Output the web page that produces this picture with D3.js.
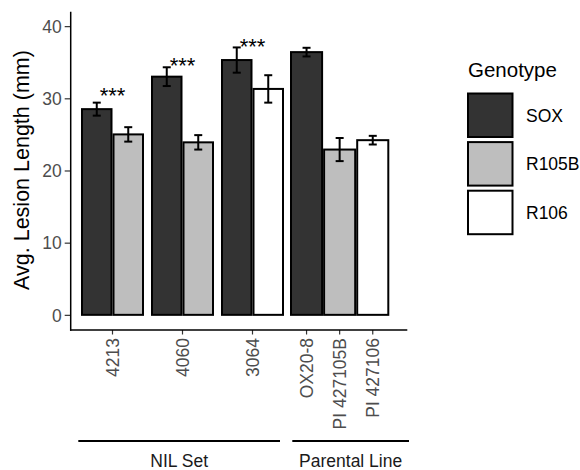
<!DOCTYPE html>
<html>
<head>
<script src="https://d3js.org/d3.v7.min.js"></script>
<style>
  body { margin: 0; background: #fff; }
  svg { font-family: "Liberation Sans", Arial, sans-serif; }
</style>
</head>
<body>
<div id="chart"></div>
<script>
// data
const genotypes = ['SOX', 'R105B', 'R106'];
const nilLines = ['4213', '4060', '3064'];
const parentLines = ['OX20-8', 'PI 427105B', 'PI 427106'];

// NIL set: each line has SOX + one donor genotype
const nilGenotype = [['SOX', 'R105B'], ['SOX', 'R105B'], ['SOX', 'R106']];
const nilMean = [[28.5, 25.0], [33.0, 23.9], [35.3, 31.3]];
const nilErr = [[0.9, 1.0], [1.3, 1.0], [1.75, 1.9]];

// parental lines
const parentGenotype = ['SOX', 'R105B', 'R106'];
const parentMean = [36.4, 22.9, 24.2];
const parentErr = [0.6, 1.6, 0.6];

const sigLabel = '***';
const sigY = [29.4, 33.5, 36.1];

const setNames = ['NIL Set', 'Parental Line'];
const yTicks = [0, 10, 20, 30, 40];

const fills = { SOX: '#333333', R105B: '#bebebe', R106: '#ffffff' };

const w = 580, h = 470;
const svg = d3.select('#chart').append('svg')
  .attr('width', w).attr('height', h);

const y = d3.scaleLinear().domain([-2.1, 42]).range([330, 11.7]);

const xNil = d3.scaleBand().domain(nilLines).range([77.5, 287.5])
  .paddingInner(0.1).paddingOuter(0.05);
const xInner = d3.scaleBand().domain([0, 1]).range([0, xNil.bandwidth()]);
const xPar = d3.scaleBand().domain(parentLines).range([290, 389.3]);

// flatten bars
const bars = [];
nilLines.forEach((ln, i) => {
  nilGenotype[i].forEach((g, j) => {
    bars.push({ x: xNil(ln) + xInner(j), w: xInner.bandwidth(), g: g,
      mean: nilMean[i][j], err: nilErr[i][j] });
  });
});
parentLines.forEach((ln, i) => {
  bars.push({ x: xPar(ln), w: xPar.bandwidth(), g: parentGenotype[i],
    mean: parentMean[i], err: parentErr[i] });
});

svg.selectAll('rect.bar')
  .data(bars)
  .enter()
  .append('rect')
  .attr('class', 'bar')
  .attr('x', d => d.x + 1)
  .attr('y', d => y(d.mean))
  .attr('width', d => d.w - 2)
  .attr('height', d => y(0) - y(d.mean))
  .style('fill', d => fills[d.g])
  .style('stroke', '#000')
  .style('stroke-width', 2);

// error bars
const eb = svg.selectAll('g.err').data(bars).enter().append('g').attr('class', 'err')
  .style('stroke', '#000').style('stroke-width', 2);
eb.append('line')
  .attr('x1', d => d.x + d.w / 2).attr('x2', d => d.x + d.w / 2)
  .attr('y1', d => y(d.mean - d.err)).attr('y2', d => y(d.mean + d.err));
eb.append('line')
  .attr('x1', d => d.x + d.w / 2 - 4).attr('x2', d => d.x + d.w / 2 + 4)
  .attr('y1', d => y(d.mean + d.err)).attr('y2', d => y(d.mean + d.err));
eb.append('line')
  .attr('x1', d => d.x + d.w / 2 - 4).attr('x2', d => d.x + d.w / 2 + 4)
  .attr('y1', d => y(d.mean - d.err)).attr('y2', d => y(d.mean - d.err));

// significance stars
svg.selectAll('text.sig')
  .data(nilLines)
  .enter()
  .append('text')
  .attr('class', 'sig')
  .attr('x', d => xNil(d) + xNil.bandwidth() / 2)
  .attr('y', (d, i) => y(sigY[i]))
  .attr('text-anchor', 'middle')
  .style('font-size', '22px')
  .style('fill', '#000')
  .text(sigLabel);

// y axis
const yAxis = svg.append('g')
  .attr('transform', 'translate(70.7,0)')
  .call(d3.axisLeft(y).tickValues(yTicks).tickSize(6).tickPadding(3));
yAxis.select('.domain').remove();
yAxis.selectAll('.tick line').style('stroke', '#333').style('stroke-width', 1.2);
yAxis.selectAll('.tick text').style('font-size', '17.5px').style('fill', '#4d4d4d')
  .attr('dy', '0.36em');

// x axes
function styleX(g) {
  g.select('.domain').remove();
  g.selectAll('.tick line').style('stroke', '#333').style('stroke-width', 1.2);
  g.selectAll('.tick text')
    .style('font-size', '17.5px').style('fill', '#4d4d4d')
    .attr('text-anchor', 'end')
    .attr('transform', 'rotate(-90)')
    .attr('x', -8).attr('y', 0).attr('dy', '0.36em');
}
svg.append('g').attr('transform', 'translate(0,330)')
  .call(d3.axisBottom(xNil).tickSize(4.5)).call(styleX);
svg.append('g').attr('transform', 'translate(0,330)')
  .call(d3.axisBottom(xPar).tickSize(4.5)).call(styleX);

// axis lines
svg.append('line').attr('x1', 70.7).attr('x2', 70.7).attr('y1', 11.7).attr('y2', 330.7)
  .style('stroke', '#000').style('stroke-width', 1.5);
svg.append('line').attr('x1', 70).attr('x2', 407.3).attr('y1', 330).attr('y2', 330)
  .style('stroke', '#000').style('stroke-width', 1.5);

// y title
svg.append('text')
  .attr('transform', 'translate(29,170) rotate(-90)')
  .attr('text-anchor', 'middle')
  .style('font-size', '21.5px')
  .style('fill', '#000')
  .text('Avg. Lesion Length (mm)');

// set brackets
const sets = [
  { x1: 78.3, x2: 280 },
  { x1: 292.3, x2: 409 }
];
sets.forEach((s, i) => {
  svg.append('line').attr('x1', s.x1).attr('x2', s.x2).attr('y1', 441).attr('y2', 441)
    .style('stroke', '#000').style('stroke-width', 2);
  svg.append('text')
    .attr('x', (s.x1 + s.x2) / 2).attr('y', 466.5)
    .attr('text-anchor', 'middle')
    .style('font-size', '17.5px').style('fill', '#1a1a1a')
    .text(setNames[i]);
});

// legend
const legend = svg.append('g').attr('transform', 'translate(468,0)');
legend.append('text').attr('x', 0).attr('y', 76.5)
  .style('font-size', '20.5px').style('fill', '#000').text('Genotype');
const item = legend.selectAll('g.item').data(genotypes).enter().append('g')
  .attr('class', 'item')
  .attr('transform', (d, i) => 'translate(0,' + (93.5 + i * 48.6) + ')');
item.append('rect')
  .attr('width', 44.5).attr('height', 43.5)
  .style('fill', d => fills[d]).style('stroke', '#000').style('stroke-width', 2);
item.append('text')
  .attr('x', 58).attr('y', 22).attr('dy', '0.36em')
  .style('font-size', '17.5px').style('fill', '#000')
  .text(d => d);
</script>
</body>
</html>
